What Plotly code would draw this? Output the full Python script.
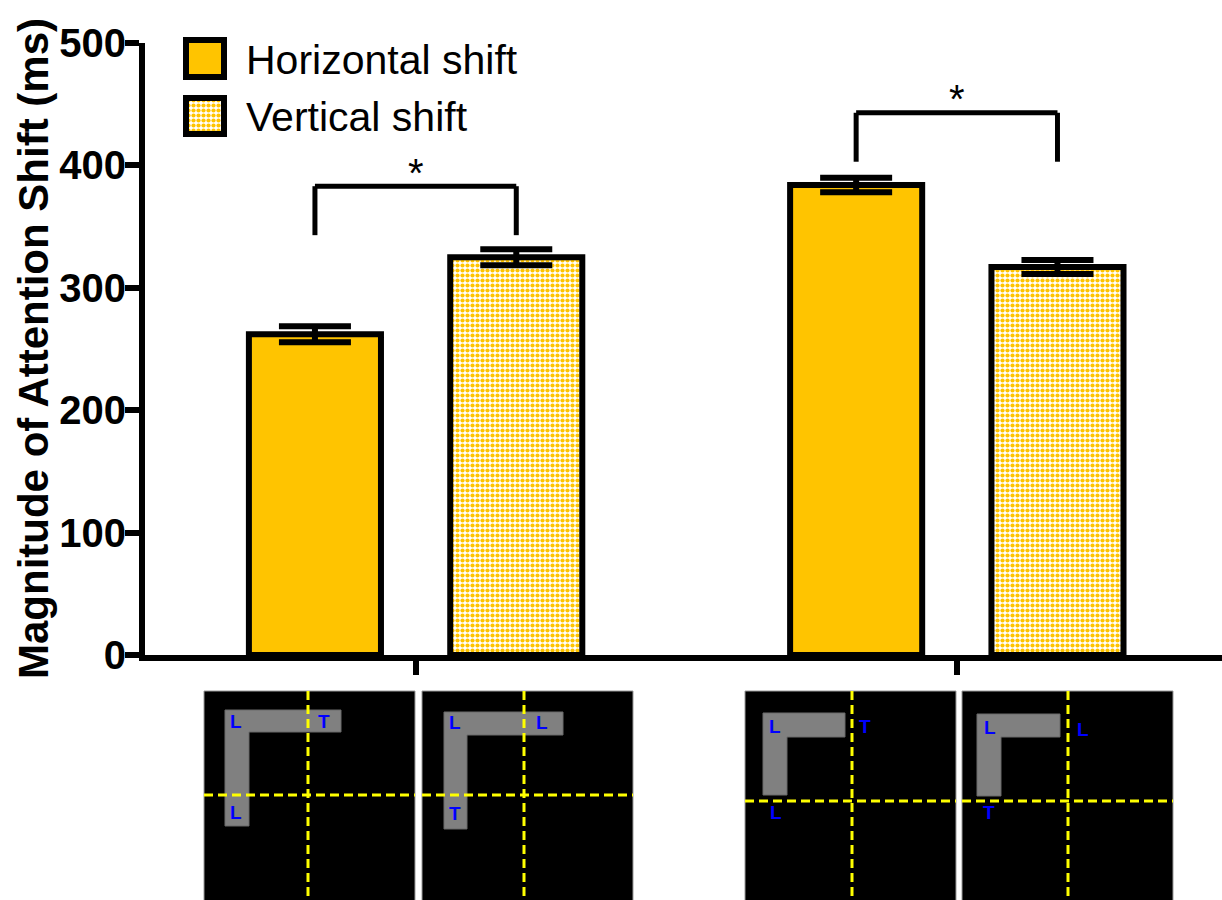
import plotly.graph_objects as go

# ---------------- data ----------------
groups = ["Condition 1", "Condition 2"]
series_names = ["Horizontal shift", "Vertical shift"]
horizontal_ms = [262, 384]
horizontal_sem = [6.5, 6.0]
vertical_ms = [325, 317]
vertical_sem = [6.5, 5.7]
bracket_top = [383, 443]
bracket_bottom = [343, 403]
star_y = [401, 462]
star_text = ["*", "*"]
y_ticks = [0, 100, 200, 300, 400, 500]
y_title = "Magnitude of Attention Shift (ms)"

# ---------------- style ----------------
ORANGE = "#FFC400"
FONT = "Liberation Sans, Arial, Helvetica, sans-serif"
W, H = 1222, 900
ML, MR, MT, MB = 145, 0, 43, 245
PW, PH = W - ML - MR, H - MT - MB
BARGAP, BARGROUPGAP = 0.256, 0.344
OFF = (1 - BARGAP) / 4  # offset of each bar centre from the group centre


def px_x(p):
    return (p - ML) / PW


def px_y(p):
    return (H - MB - p) / PH


pattern = dict(shape=".", fgcolor=ORANGE, bgcolor="white", size=5,
               solidity=0.55, fillmode="replace")

fig = go.Figure()
fig.add_trace(go.Bar(
    x=groups, y=horizontal_ms, name=series_names[0], showlegend=False,
    marker=dict(color=ORANGE, line=dict(color="black", width=6)),
    error_y=dict(type="data", array=horizontal_sem, color="black",
                 thickness=6, width=36),
))
fig.add_trace(go.Bar(
    x=groups, y=vertical_ms, name=series_names[1], showlegend=False,
    marker=dict(color="white", pattern=pattern,
                line=dict(color="black", width=6)),
    error_y=dict(type="data", array=vertical_sem, color="black",
                 thickness=6, width=36),
))

shapes = []
annotations = []

# ---- legend (swatch boxes drawn with shapes; pattern fill via a tiny bar) ----
sw_boxes = [(186, 224, 40, 77), (186, 224, 98, 134)]  # line-centre pixel boxes
for k, (x0, x1, y0, y1) in enumerate(sw_boxes):
    if k == 1:
        fig.add_trace(go.Bar(
            x=[0], y=[1], width=[1], showlegend=False, hoverinfo="skip",
            xaxis="x2", yaxis="y2",
            marker=dict(color="white", pattern=pattern, line=dict(width=0)),
        ))
        fig.layout["xaxis2"] = dict(domain=[px_x(x0), px_x(x1)], range=[-0.5, 0.5],
                                    visible=False, anchor="y2", fixedrange=True,
                                    automargin=False)
        fig.layout["yaxis2"] = dict(domain=[px_y(y1), px_y(y0)], range=[0, 1],
                                    visible=False, anchor="x2", fixedrange=True,
                                    automargin=False)
    shapes.append(dict(type="rect", xref="paper", yref="paper", layer="above",
                       x0=px_x(x0), x1=px_x(x1), y0=px_y(y1), y1=px_y(y0),
                       fillcolor=ORANGE if k == 0 else "rgba(0,0,0,0)",
                       line=dict(color="black", width=6)))
    annotations.append(dict(xref="paper", yref="paper", x=px_x(244),
                            y=px_y((y0 + y1) / 2 + 1), xanchor="left", yanchor="middle",
                            text=series_names[k], showarrow=False,
                            font=dict(family=FONT, size=41, color="black")))

# ---- significance brackets ----
for i in range(len(groups)):
    xa, xb = i - OFF, i + OFF
    for (a0, b0, a1, b1) in [(xa, bracket_bottom[i], xa, bracket_top[i]),
                             (xa, bracket_top[i], xb, bracket_top[i]),
                             (xb, bracket_top[i], xb, bracket_bottom[i])]:
        shapes.append(dict(type="line", xref="x", yref="y", x0=a0, y0=b0,
                           x1=a1, y1=b1, line=dict(color="black", width=5)))
    annotations.append(dict(xref="x", yref="y", x=groups[i], y=star_y[i], text=star_text[i],
                            showarrow=False, yanchor="middle", yshift=-9,
                            font=dict(family=FONT, size=40, color="black")))

# ---- y-axis title ----
annotations.append(dict(xref="paper", yref="paper", x=px_x(33), y=px_y(349),
                        text=y_title, textangle=-90, showarrow=False,
                        xanchor="center", yanchor="middle",
                        font=dict(family=FONT, size=42, color="black", weight="bold")))

# ---- stimulus illustrations below the axis ----
panels = [
    dict(left=204, hx=(21, 137), hy=(19, 41), vx=(21, 45), vy=(19, 135), dv=104, dh=104,
         letters=[("L", 32, 30), ("T", 120, 30), ("L", 32, 121)]),
    dict(left=422, hx=(22, 141), hy=(21, 44), vx=(22, 45), vy=(21, 138), dv=102, dh=104,
         letters=[("L", 33, 31), ("L", 120, 31), ("T", 33, 122)]),
    dict(left=745, hx=(18, 100), hy=(22, 46), vx=(18, 42), vy=(22, 104), dv=107, dh=110,
         letters=[("L", 30, 35), ("T", 120, 35), ("L", 31, 121)]),
    dict(left=962, hx=(15, 98), hy=(23, 46), vx=(15, 39), vy=(23, 105), dv=106, dh=110,
         letters=[("L", 28, 36), ("L", 121, 38), ("T", 27, 121)]),
]
PTOP, PSIZE = 691, 211
for p in panels:
    L = p["left"]
    shapes.append(dict(type="rect", xref="paper", yref="paper", layer="above",
                       x0=px_x(L), x1=px_x(L + PSIZE), y0=px_y(PTOP), y1=px_y(PTOP + PSIZE),
                       fillcolor="black", line=dict(color="#9a9a9a", width=1)))
    hx, hy, vx, vy = p["hx"], p["hy"], p["vx"], p["vy"]
    pts = [(hx[0], hy[0]), (hx[1], hy[0]), (hx[1], hy[1]), (vx[1], hy[1]),
           (vx[1], vy[1]), (vx[0], vy[1])]
    path = "M " + " L ".join(f"{px_x(L + a):.5f},{px_y(PTOP + b):.5f}" for a, b in pts) + " Z"
    shapes.append(dict(type="path", xref="paper", yref="paper", layer="above", path=path,
                       fillcolor="#808080", line=dict(color="#6a6a6a", width=1)))
    shapes.append(dict(type="line", xref="paper", yref="paper", layer="above",
                       x0=px_x(L + p["dv"]), x1=px_x(L + p["dv"]),
                       y0=px_y(PTOP), y1=px_y(PTOP + PSIZE),
                       line=dict(color="#FFFF00", width=3, dash="9px,5px")))
    shapes.append(dict(type="line", xref="paper", yref="paper", layer="above",
                       x0=px_x(L), x1=px_x(L + PSIZE),
                       y0=px_y(PTOP + p["dh"]), y1=px_y(PTOP + p["dh"]),
                       line=dict(color="#FFFF00", width=3, dash="9px,5px")))
    for ch, a, b in p["letters"]:
        annotations.append(dict(xref="paper", yref="paper", x=px_x(L + a), y=px_y(PTOP + b),
                                text=ch, showarrow=False, xanchor="center", yanchor="middle",
                                font=dict(family=FONT, size=19, color="#0000FF", weight="bold")))

fig.update_layout(
    width=W, height=H,
    margin=dict(l=ML, r=MR, t=MT, b=MB, pad=0, autoexpand=False),
    paper_bgcolor="white", plot_bgcolor="white",
    barmode="group", bargap=BARGAP, bargroupgap=BARGROUPGAP,
    showlegend=False,
    font=dict(family=FONT, color="black"),
    xaxis=dict(type="category", range=[-0.5, 1.49], showline=True, linecolor="black",
               linewidth=6, ticks="outside", ticklen=14, tickwidth=6, tickcolor="black",
               showticklabels=False, showgrid=False, zeroline=False, fixedrange=True,
               automargin=False),
    yaxis=dict(range=[0, 500], tickmode="array", tickvals=y_ticks,
               ticktext=[str(v) for v in y_ticks], showline=True, linecolor="black",
               linewidth=6, ticks="outside", ticklen=14, tickwidth=6, tickcolor="black",
               tickfont=dict(family=FONT, size=40, color="black", weight="bold"),
               ticklabelstandoff=-9,
               showgrid=False, zeroline=False, fixedrange=True, automargin=False),
)
fig.layout.shapes = shapes
fig.layout.annotations = annotations

fig.write_html("out.html", config={"displayModeBar": False},
               post_script="document.body.style.margin='0';")
